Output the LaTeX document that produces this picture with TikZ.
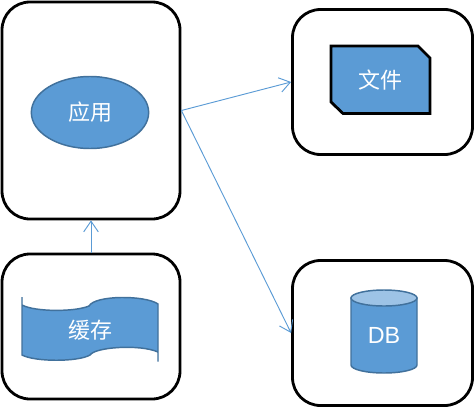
\documentclass[tikz,border=0pt]{standalone}
\usepackage{fontspec}
\setmainfont{Liberation Sans}
\newfontfamily\cjk{Noto Sans CJK SC}
\usetikzlibrary{arrows.meta, shapes.geometric}
\definecolor{shapeblue}{RGB}{91, 155, 213}
\definecolor{edgeblue}{RGB}{65, 113, 156}
\definecolor{topblue}{RGB}{157, 195, 230}
\tikzset{
    box/.style={draw=black, line width=2.1pt, fill=white, rounded corners=21pt, inner sep=0pt},
    label/.style={text=white, font=\fontsize{16.5}{18}\selectfont},
    link/.style={draw=shapeblue, line width=0.7pt, -{Straight Barb[length=8pt, width=11pt, line width=0.7pt]}},
}
\begin{document}
\begin{tikzpicture}[x=0.75pt, y=-0.75pt]
    \useasboundingbox (0,0) rectangle (474,407);

    % Outer boxes
    \node[box, minimum width=133.5pt, minimum height=162.75pt] (appbox) at (91,110.5) {};
    \node[box, minimum width=135pt, minimum height=108.75pt] (filebox) at (382.5,82) {};
    \node[box, minimum width=133.5pt, minimum height=108.75pt] (cachebox) at (91,326.5) {};
    \node[box, minimum width=135pt, minimum height=108.75pt] (dbbox) at (382.5,333) {};

    % Application
    \node[ellipse, draw=edgeblue, line width=1.1pt, fill=shapeblue, label,
        minimum width=88pt, minimum height=54pt, inner sep=0pt] (app) at (90,112.5) {\cjk 应用};

    % File
    \draw[fill=shapeblue, draw=black, line width=2.1pt]
        (331,46) -- (418,46) -- (430,58) -- (430,113.5) -- (343,113.5) -- (331,102) -- cycle;
    \node[label] (file) at (380,80) {\cjk 文件};

    % Cache
    \draw[fill=shapeblue, draw=edgeblue, line width=1.1pt]
        (22,297) -- (22,355) .. controls (35,362) and (78,362) .. (90,355)
        .. controls (95,347) and (140,344) .. (158,352) -- (158,361.5) -- (158,304)
        .. controls (145,295) and (95,295) .. (89,306)
        .. controls (75,312) and (35,312) .. (22,305) -- cycle;
    \node[label] (cache) at (90,330) {\cjk 缓存};

    % Database
    \draw[fill=shapeblue, draw=edgeblue, line width=1.1pt]
        (351,298) -- (351,365) arc (180:0:33 and 8) -- (417,298) -- cycle;
    \draw[fill=topblue, draw=edgeblue, line width=1.1pt] (384,298) ellipse (33 and 8);
    \node[label, font=\fontsize{17.5}{18}\selectfont] (db) at (384,335) {DB};

    % Connectors
    \draw[link] (appbox.east) -- (filebox.west);
    \draw[link] (appbox.east) -- (dbbox.west);
    \draw[link] (cachebox.north) -- (appbox.south);
\end{tikzpicture}
\end{document}
